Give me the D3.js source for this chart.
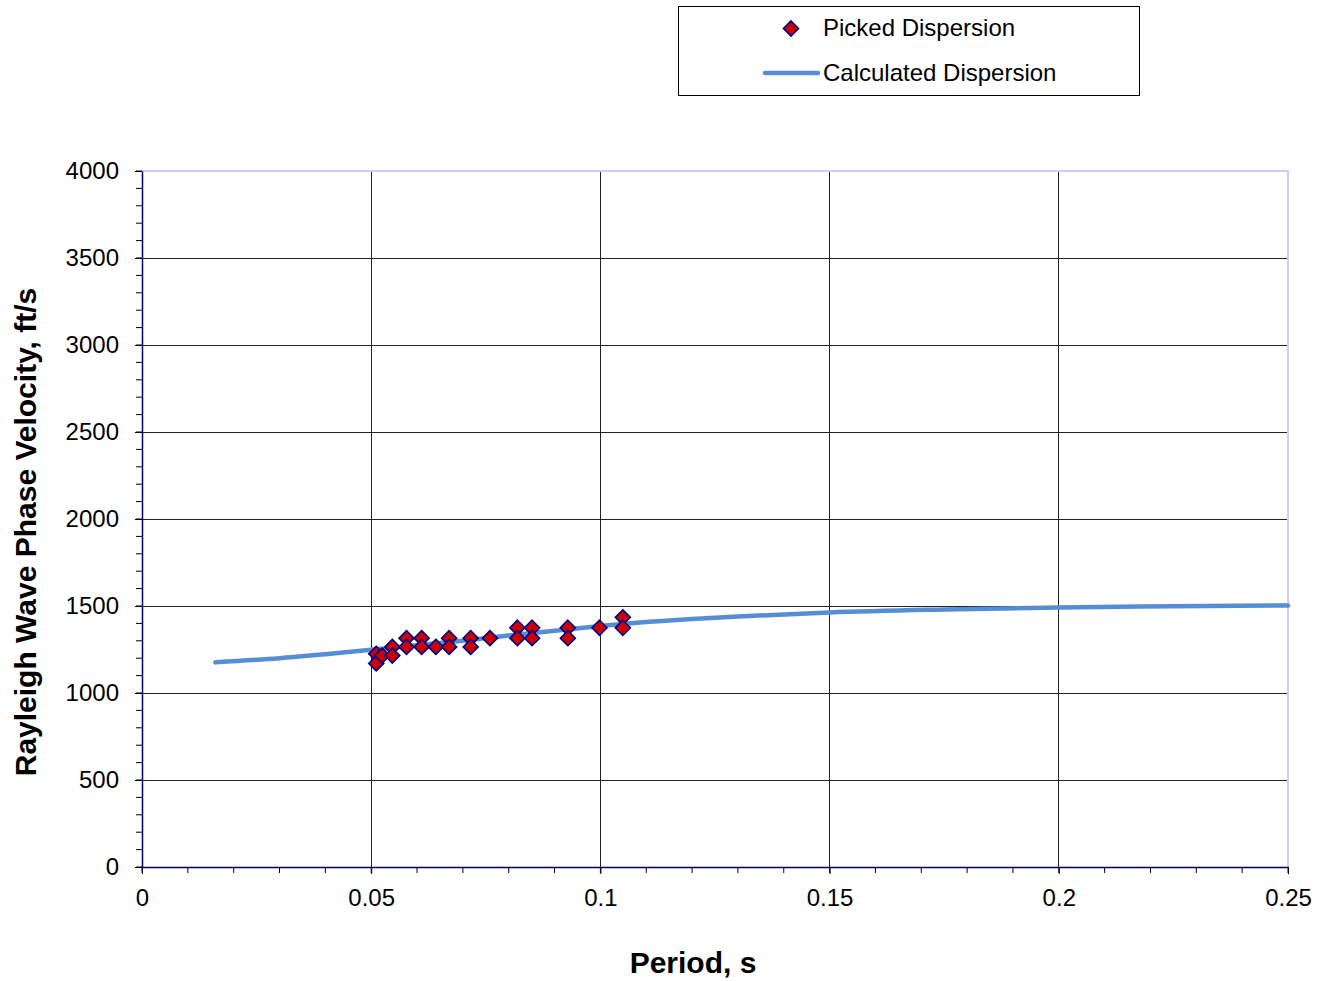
<!DOCTYPE html>
<html><head><meta charset="utf-8">
<script src="https://cdn.jsdelivr.net/npm/d3@7"></script>
<style>body{margin:0;background:#fff;} svg{display:block;font-family:"Liberation Sans",Arial,sans-serif;}</style>
</head><body>
<svg id="chart" width="1327" height="981"></svg>
<script>
const pickedPeriod = [0.0511,0.0511,0.0524,0.0546,0.0546,0.0577,0.0577,0.0610,0.0610,0.0641,0.0670,0.0670,0.0717,0.0717,0.0759,0.0819,0.0819,0.0851,0.0851,0.0929,0.0929,0.0998,0.1049,0.1049];
const pickedVelocity = [1225,1170,1215,1265,1215,1315,1265,1315,1265,1265,1315,1265,1315,1265,1315,1375,1315,1375,1315,1375,1315,1375,1435,1375];
const calcPeriod = [0.016,0.03,0.045,0.05,0.06,0.07,0.08,0.09,0.1,0.11,0.12,0.13,0.15,0.175,0.2,0.225,0.25];
const calcVelocity = [1176,1200,1235,1248,1275,1300,1330,1358,1385,1408,1425,1440,1463,1480,1492,1498,1503];
const xTicks = [0,0.05,0.1,0.15,0.2,0.25];
const yTicks = [0,500,1000,1500,2000,2500,3000,3500,4000];
const seriesNames = ["Picked Dispersion","Calculated Dispersion"];
const xTitle = "Period, s";
const yTitle = "Rayleigh Wave Phase Velocity, ft/s";

const svg = d3.select("#chart");
const L=142, R=1288, T=171, B=867;
const x = d3.scaleLinear().domain([0,0.25]).range([L,R]);
const y = d3.scaleLinear().domain([0,4000]).range([B,T]);

// gridlines
svg.append("g").selectAll("line").data(yTicks.filter(d=>d>0&&d<4000)).join("line")
  .attr("x1",L).attr("x2",R).attr("y1",d=>y(d)).attr("y2",d=>y(d))
  .attr("stroke","#222").attr("stroke-width",1).attr("shape-rendering","crispEdges");
svg.append("g").selectAll("line").data(xTicks.filter(d=>d>0&&d<0.25)).join("line")
  .attr("y1",T).attr("y2",B).attr("x1",d=>x(d)).attr("x2",d=>x(d))
  .attr("stroke","#222").attr("stroke-width",1).attr("shape-rendering","crispEdges");

// top/right border
svg.append("path").attr("d",`M${L},${T}H${R}V${B}`).attr("fill","none").attr("stroke","#ccccff").attr("stroke-width",2);

// axes
const xAxis = d3.axisBottom(x).tickValues(xTicks).tickFormat(d=>String(d)).tickSize(7).tickSizeOuter(0).tickPadding(15);
const gx = svg.append("g").attr("transform",`translate(0,${B})`).call(xAxis);
const xMinor = d3.range(0,0.2501,0.01).map(v=>+v.toFixed(2));
svg.append("g").selectAll("line").data(xMinor).join("line")
  .attr("x1",d=>x(d)).attr("x2",d=>x(d)).attr("y1",B).attr("y2",B+6).attr("stroke","#000").attr("stroke-width",1);
const yAxis = d3.axisLeft(y).tickValues(yTicks).tickFormat(d=>String(d)).tickSize(7).tickSizeOuter(0).tickPadding(16);
const gy = svg.append("g").attr("transform",`translate(${L},0)`).call(yAxis);
const yMinor = d3.range(0,4001,100);
svg.append("g").selectAll("line").data(yMinor).join("line")
  .attr("y1",d=>y(d)).attr("y2",d=>y(d)).attr("x1",L-6).attr("x2",L).attr("stroke","#000").attr("stroke-width",1);
[gx,gy].forEach(g=>{
  g.attr("font-size",24).attr("font-family","'Liberation Sans',Arial,sans-serif");
  g.select(".domain").attr("stroke","#000066").attr("stroke-width",1.5);
  g.selectAll(".tick line").attr("stroke","#000");
  g.selectAll(".tick text").attr("font-size",24).attr("fill","#000");
});

// calculated line
const line = d3.line().x((d,i)=>x(calcPeriod[i])).y((d,i)=>y(calcVelocity[i])).curve(d3.curveMonotoneX);
svg.append("path").datum(calcPeriod).attr("d",line).attr("fill","none")
  .attr("stroke","#558ed5").attr("stroke-width",4.5).attr("stroke-linecap","round");

// picked points
const dpath = "M0,-7.5L7.5,0L0,7.5L-7.5,0Z";
svg.append("g").selectAll("path").data(pickedPeriod).join("path")
  .attr("d",dpath)
  .attr("transform",(d,i)=>`translate(${x(d)},${y(pickedVelocity[i])})`)
  .attr("fill","#cc0000").attr("stroke","#000080").attr("stroke-width",1.6);

// axis titles
svg.append("text").attr("x",693).attr("y",973).attr("text-anchor","middle")
  .attr("font-size",30).attr("font-weight","bold").text(xTitle);
svg.append("text").attr("transform","translate(36,532) rotate(-90)").attr("text-anchor","middle")
  .attr("font-size",30).attr("font-weight","bold").text(yTitle);

// legend
const lg = svg.append("g");
lg.append("rect").attr("x",678.5).attr("y",6.5).attr("width",461).attr("height",89)
  .attr("fill","#fff").attr("stroke","#000").attr("stroke-width",1);
lg.append("path").attr("d",dpath).attr("transform","translate(791,28.5)")
  .attr("fill","#cc0000").attr("stroke","#000080").attr("stroke-width",1.6);
lg.append("line").attr("x1",765).attr("x2",818).attr("y1",73).attr("y2",73)
  .attr("stroke","#558ed5").attr("stroke-width",4.5).attr("stroke-linecap","round");
lg.append("text").attr("x",823).attr("y",35.5).attr("font-size",24).text(seriesNames[0]);
lg.append("text").attr("x",823).attr("y",80.5).attr("font-size",24).text(seriesNames[1]);
</script>
</body></html>
